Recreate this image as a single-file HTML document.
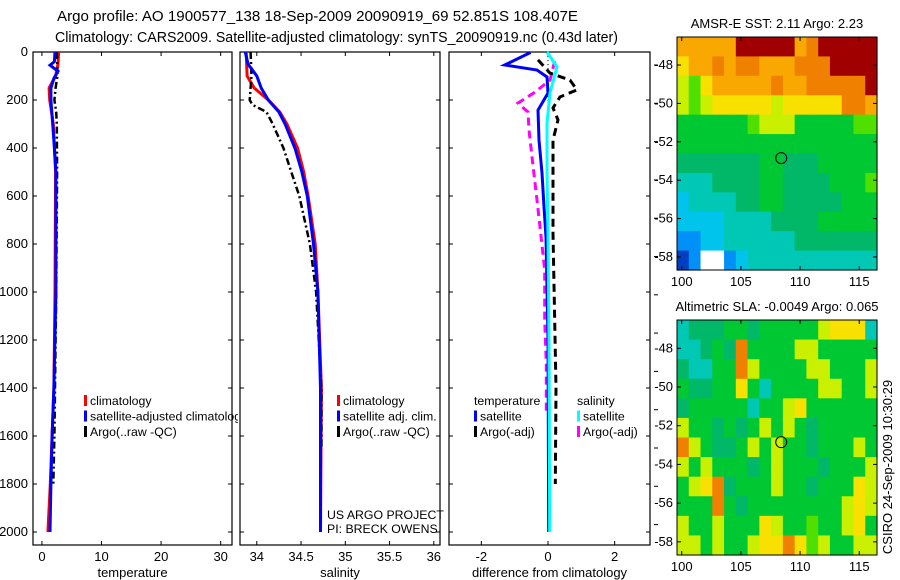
<!DOCTYPE html>
<html><head><meta charset="utf-8">
<style>
body{margin:0;background:#fff;}
svg{display:block;font-family:"Liberation Sans",sans-serif;}
text{font-size:13px;fill:#000;}
text.lg{font-size:12.3px;}
</style></head>
<body>
<svg id="c" width="900" height="580" viewBox="0 0 900 580">
<defs><clipPath id="clipT"><rect x="0" y="0" width="238" height="580"/></clipPath></defs>
<rect width="900" height="580" fill="#fff"/>
<text x="57" y="21" textLength="521" lengthAdjust="spacingAndGlyphs" style="font-size:14.5px">Argo profile: AO 1900577_138 18-Sep-2009 20090919_69 52.851S 108.407E</text>
<text x="55" y="42" textLength="563" lengthAdjust="spacingAndGlyphs" style="font-size:14.5px">Climatology: CARS2009. Satellite-adjusted climatology: synTS_20090919.nc (0.43d later)</text>
<g id="g"></g>
</svg>
<script>
// ---- data ----
const tempClimP=[0,50,100,150,200,300,500,1000,1400,1600,1800,2000];
const tempClimV=[2.8,2.7,2.3,1.2,1.3,1.9,2.3,2.2,2.0,1.7,1.4,1.0];
const tempSatP=[0,40,55,80,110,150,200,300,400,500,1000,1400,1600,1800,2000];
const tempSatV=[2.2,2.1,1.35,2.7,2.0,1.5,1.5,1.8,2.1,2.35,2.35,2.0,1.7,1.5,1.35];
const tempArgoP=[0,60,100,150,200,250,300,500,1000,1400,1600,1800];
const tempArgoV=[2.5,2.6,2.6,2.3,2.1,2.4,2.5,2.55,2.4,2.2,2.1,1.9];
const salClimP=[0,100,150,200,250,300,400,500,600,800,1000,1400,2000];
const salClimV=[33.88,33.89,33.97,34.13,34.26,34.34,34.46,34.53,34.58,34.66,34.69,34.73,34.72];
const salSatP=[0,50,100,150,200,250,300,400,500,600,800,1000,1400,2000];
const salSatV=[33.87,33.9,34.0,34.05,34.13,34.25,34.32,34.43,34.51,34.57,34.64,34.69,34.72,34.72];
const salArgoP=[0,100,200,220,250,300,400,500,600,800,1000,1400,1650];
const salArgoV=[33.93,33.94,33.92,33.95,34.11,34.18,34.3,34.39,34.48,34.6,34.67,34.73,34.73];
const dTSatP=[0,5,54,75,104,171,242,367,504,646,771,1200,2000];
const dTSatV=[-0.6,-0.57,-1.3,-0.33,-0.03,0,-0.3,-0.27,-0.18,-0.12,-0.06,0,0.02];
const dSSatP=[0,62,171,296,504,771,1200,2000];
const dSSatV=[-0.03,0.27,0.06,-0.03,-0.03,0,0.03,0.05];
const dTArgoP=[33,88,117,158,187,233,283,367,504,754,1400,1800];
const dTArgoV=[-0.3,0.06,0.66,0.87,0.36,0.15,0.3,0.15,0.15,0.15,0.24,0.22];
const dSArgoP=[38,117,167,213,250,325,437,617,729,908,1117,1300,1500];
const dSArgoV=[0.2,0.06,-0.39,-0.9,-0.6,-0.57,-0.48,-0.33,-0.24,-0.1,-0.1,-0.05,-0.05];
const tempTicks=[0,10,20,30];
const salTicks=[34,34.5,35,35.5,36];
const salTickLabels=["34","34.5","35","35.5","36"];
const diffTicks=[-2,0,2];
const presTicks=[0,200,400,600,800,1000,1200,1400,1600,1800,2000];
const latTicks=[-48,-50,-52,-54,-56,-58];
const lonTicks=[100,105,110,115];
const sstGrid=[
"oooooRRRRRoORRRRR",
"YooOoOOoooOOORRRR",
"ygYoooooOooOOOOOR",
"ygyYYYYYyYYYYYOOo",
"GGGGGGgyyyGGGGGgg",
"GGGGGGGGGGGGGGGGG",
"TTTTTTTGGTTTGGGGG",
"CCCTTTTGGTTTTGGGg",
"cCCCCTTGGTTTTTGGG",
"ccccCCCCTTTTGGGGG",
"BBccCCCCCCTTTTTTT",
"DBWWBcCCCCCCCCCCC"];
const slaGrid=[
"CTTTGGTGGGGGyYYYC",
"CCTGTOGGGGyyGGGGG",
"TCCGGOyGGGGyyGGGy",
"GTTGGYGCGGGGyyGGy",
"TGGGGGCGGyYGGGGGG",
"yGGTGTGyGyGTGGGGG",
"OyGTTGyGyGGTGGGyG",
"yGyGGGTGyGGGTGGGy",
"GyYOTGGGyGGTGGGYy",
"GGGOGTGGGGGGGGyYy",
"yGGyGGGYyGGgGGyYG",
"yyGyGGyYYOYgyGGyy"];
const pal={R:"#a00000",O:"#f08000",o:"#f8a800",Y:"#f8e000",y:"#c8f000",g:"#50e000",G:"#00c832",T:"#00b868",C:"#00c8b4",c:"#00c4ec",B:"#0090f8",D:"#0040c0",W:"#ffffff"};
const argoLon=108.407, argoLat=-52.851;

// ---- helpers ----
const NS="http://www.w3.org/2000/svg";
const G=document.getElementById('g');
function mk(tag,at,parent){const e=document.createElementNS(NS,tag);for(const k in at)e.setAttribute(k,at[k]);(parent||G).appendChild(e);return e;}
const yTop=52, yScale=0.24;
const py=p=>yTop+p*yScale;
const yBot=545;
const panels=[
 {x0:33,x1:232,lo:-1.5,hi:31.9,name:'temperature'},
 {x0:240,x1:440,lo:33.81,hi:36.07,name:'salinity'},
 {x0:449,x1:650,lo:-2.97,hi:3.06,name:'difference'}];
function sx(pn,v){return pn.x0+(v-pn.lo)/(pn.hi-pn.lo)*(pn.x1-pn.x0);}

function frame(pn,xt,xl,title){
  const f=mk('rect',{x:pn.x0,y:yTop,width:pn.x1-pn.x0,height:yBot-yTop,fill:'none',stroke:'#000','stroke-width':1.2});
  
  
  xt.forEach((v,i)=>{const x=sx(pn,v);
    mk('line',{x1:x,y1:yBot,x2:x,y2:yBot-4,stroke:'#000'});
    mk('line',{x1:x,y1:yTop,x2:x,y2:yTop+4,stroke:'#000'});
    const t=mk('text',{x:x,y:yBot+16,'text-anchor':'middle'});t.textContent=xl[i];
    
    
  });
  presTicks.forEach(p=>{const y=py(p);
    mk('line',{x1:pn.x0,y1:y,x2:pn.x0+4,y2:y,stroke:'#000'});
    mk('line',{x1:pn.x1,y1:y,x2:pn.x1-4,y2:y,stroke:'#000'});});
  const t=mk('text',{x:(pn.x0+pn.x1)/2,y:577,'text-anchor':'middle'});t.textContent=title;
  
  
}
function line(pn,P,V,color,w,dash,name){
  const d=P.map((p,i)=>(i?'L':'M')+sx(pn,V[i]).toFixed(1)+','+py(p).toFixed(1)).join('');
  const a={d:d,fill:'none',stroke:color,'stroke-width':w};
  if(dash)a['stroke-dasharray']=dash;
  const e=mk('path',a);
  
  
}
function legend(x,y,items,clip){
  const lg=mk('g',clip?{'clip-path':'url(#'+clip+')'}:{});
  
  
  items.forEach((it,i)=>{const yy=y+i*15.5;
    if(it.c){mk('rect',{x:x,y:yy-10,width:3,height:11,fill:it.c},lg);}
    const t=mk('text',{x:x+(it.c?6:0),y:yy,'class':'lg'},lg);t.textContent=it.t;
    
    
  });
}

presTicks.forEach(p=>{const t=mk('text',{x:28,y:py(p)+4,'text-anchor':'end'});t.textContent=p;
  
  });

const [pT,pS,pD]=panels;
frame(pT,tempTicks,tempTicks.map(String),'temperature');
line(pT,tempClimP,tempClimV,'#f00',3,null,'temp-climatology-line');
line(pT,tempArgoP,tempArgoV,'#000',2.5,'7,3,2,3','temp-argo-line');
line(pT,tempSatP,tempSatV,'#00f',3,null,'temp-satellite-line');
legend(84,405,[{c:'#f00',t:'climatology'},{c:'#00f',t:'satellite-adjusted climatology'},{c:'#000',t:'Argo(..raw -QC)'}],'clipT');

frame(pS,salTicks,salTickLabels,'salinity');
line(pS,salClimP,salClimV,'#f00',3,null,'sal-climatology-line');
line(pS,salArgoP,salArgoV,'#000',2.5,'7,3,2,3','sal-argo-line');
line(pS,salSatP,salSatV,'#00f',3,null,'sal-satellite-line');
legend(337,405,[{c:'#f00',t:'climatology'},{c:'#00f',t:'satellite adj. clim.'},{c:'#000',t:'Argo(..raw -QC)'}]);
{const t=mk('text',{x:327,y:519,'class':'lg'});t.textContent='US ARGO PROJECT';
 const t2=mk('text',{x:327,y:533,'class':'lg'});t2.textContent='PI: BRECK OWENS';}

frame(pD,diffTicks,diffTicks.map(String),'difference from climatology');
mk('line',{x1:sx(pD,0),y1:py(0),x2:sx(pD,0),y2:py(2000),stroke:'#000','stroke-dasharray':'1,3'});
line(pD,dSArgoP,dSArgoV,'#f0f',3,'8,5','diff-sal-argo-line');
line(pD,dTArgoP,dTArgoV,'#000',3,'8,5','diff-temp-argo-line');
line(pD,dTSatP,dTSatV,'#00f',3,null,'diff-temp-satellite-line');
line(pD,dSSatP,dSSatV,'#0ff',3,null,'diff-sal-satellite-line');
legend(474,405,[{t:'temperature'},{c:'#00f',t:'satellite'},{c:'#000',t:'Argo(-adj)'}]);
legend(577,405,[{t:'salinity'},{c:'#0ff',t:'satellite'},{c:'#f0f',t:'Argo(-adj)'}]);
for(let y=65;y<=545;y+=38.3){mk('line',{x1:654,y1:y,x2:658,y2:y,stroke:'#000'});}

// ---- maps ----
function map(y0,y1,grid,title,name){
  const x0=677,x1=877,lonLo=99.6,lonHi=116.5,latTop=-46.54,latBot=-58.68;
  const mx=l=>x0+(l-lonLo)/(lonHi-lonLo)*(x1-x0);
  const my=l=>y0+(latTop-l)/(latTop-latBot)*(y1-y0);
  const rows=grid.length,cols=grid[0].length;
  const cw=(x1-x0)/cols,ch=(y1-y0)/rows;
  const gg=mk('g',{});
  
  
  grid.forEach((r,i)=>{for(let j=0;j<cols;j++){
    mk('rect',{x:(x0+j*cw).toFixed(2),y:(y0+i*ch).toFixed(2),width:(cw+0.6).toFixed(2),height:(ch+0.6).toFixed(2),fill:pal[r[j]]},gg);}});
  mk('rect',{x:x0,y:y0,width:x1-x0,height:y1-y0,fill:'none',stroke:'#000'});
  const c=mk('circle',{cx:mx(argoLon),cy:my(argoLat),r:5.5,fill:'none',stroke:'#000'});
  
  
  latTicks.forEach(l=>{const y=my(l);
    mk('line',{x1:x0,y1:y,x2:x0+4,y2:y,stroke:'#000'});mk('line',{x1:x1,y1:y,x2:x1-4,y2:y,stroke:'#000'});
    const t=mk('text',{x:x0-4,y:y+4,'text-anchor':'end'});t.textContent=l;
    
    });
  lonTicks.forEach(l=>{const x=mx(l);
    mk('line',{x1:x,y1:y1,x2:x,y2:y1-4,stroke:'#000'});mk('line',{x1:x,y1:y0,x2:x,y2:y0+4,stroke:'#000'});
    const t=mk('text',{x:x,y:y1+16,'text-anchor':'middle'});t.textContent=l;
    
    });
  const t=mk('text',{x:(x0+x1)/2,y:y0-9,'text-anchor':'middle'});t.textContent=title;
  
  
}
map(37,270,sstGrid,'AMSR-E SST: 2.11 Argo: 2.23','sst');
map(320,555,slaGrid,'Altimetric SLA: -0.0049 Argo: 0.065','sla');
{const t=mk('text',{x:0,y:0,'text-anchor':'middle',transform:'translate(892,467) rotate(-90)'});
 t.textContent='CSIRO 24-Sep-2009 10:30:29';
 
 }
</script>
</body></html>
